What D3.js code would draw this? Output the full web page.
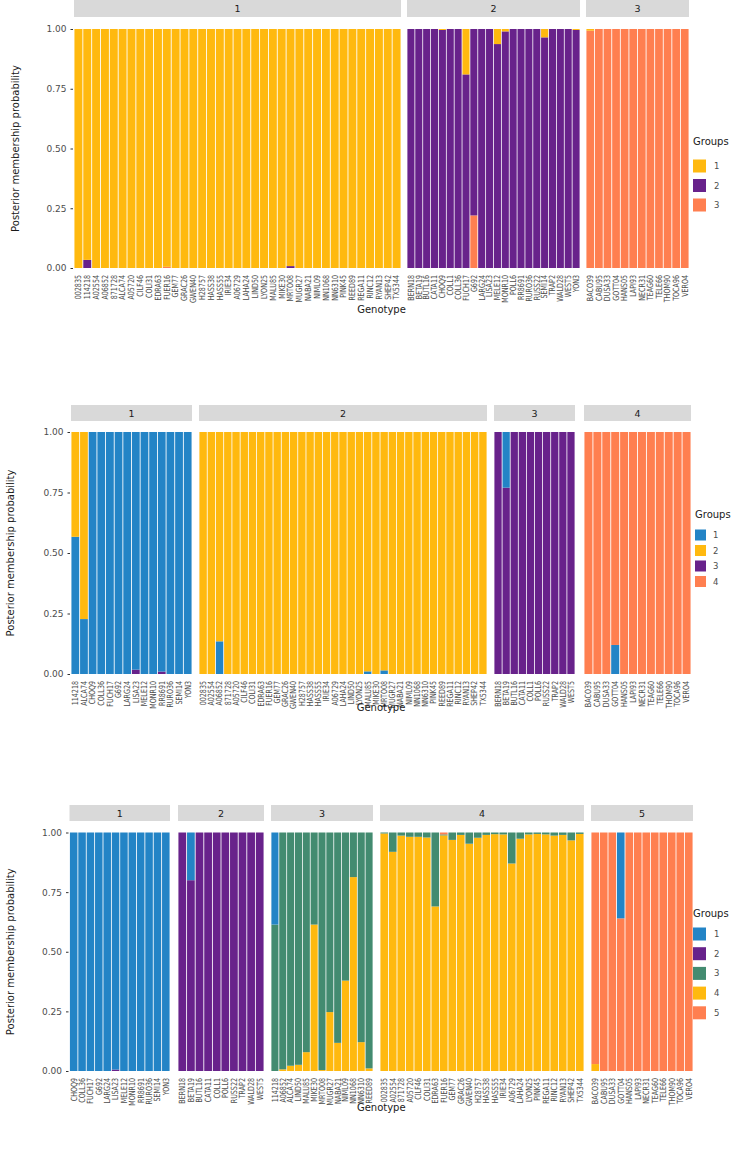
<!DOCTYPE html>
<html><head><meta charset="utf-8">
<script src="https://cdn.jsdelivr.net/npm/d3@7"></script>
<style>body{margin:0;background:#fff}svg{display:block}text{font-family:"DejaVu Sans",sans-serif}</style>
</head><body><svg id="c" width="748" height="1149"></svg>
<script>
// ---------------- DATA ----------------
const GROUP_COLORS_P1 = ["#FFB90F", "#68228B", "#FF7F50"];
const GROUP_COLORS_P2 = ["#2384C6", "#FFB90F", "#68228B", "#FF7F50"];
const GROUP_COLORS_P3 = ["#2384C6", "#68228B", "#438B70", "#FFB90F", "#FF7F50"];
const TICKS_Y = [0, 0.25, 0.5, 0.75, 1];

// Panel 1 (K = 3)
const P1_FACETS = ["1", "2", "3"];
const P1_F1 = ["002835","114218","A02554","A06852","871728","ALCA74","A05720","CILF46","COLI31","EDRA63","FUER16","GEM77","GRAC26","GWEN40","H28757","HASS38","HASS55","IRIE34","A06729","LAHA24","LIND50","LYON25","MALU85","MIKE30","MRTO08","MUGR27","NABA21","NIML09","NN1068","NN6310","PINK45","REED89","REGA11","RINC12","RYAN13","SHEP42","TX5344"];
const P1_F2 = ["BERN18","BETA19","BUTL16","CATA11","CHOQ9","COLL1","COLL36","FUCH17","G692","LARG24","LISA23","MELE12","MONR10","POLL6","RR8691","RURO36","RUSS22","SEMI14","TRAP2","WALD28","WEST5","YON3"];
const P1_F3 = ["BACO39","CABU95","DUSA33","GOTT04","HANS05","LAPI93","NECR31","TEAG60","TELE66","THOM90","TOCA96","VERO4"];
const P1_Q1 = [1,0.966,1,1,1,1,1,1,1,1, 0.995,1,1,1,1,1,1,1,1,1, 1,1,1,1,0.992,1,1,1,1,1, 1,1,1,1,1,1,1,
  0,0,0,0,0.004,0,0,0.19,0,0, 0,0.063,0.01,0,0,0,0,0.035,0,0, 0,0.004,
  0.007,0,0,0,0,0,0,0,0,0, 0,0];
const P1_Q2 = [0,0.034,0,0,0,0,0,0,0,0, 0,0,0,0,0,0,0,0,0,0, 0,0,0,0,0.008,0,0,0,0,0, 0,0,0,0,0,0,0,
  1,1,1,1,0.996,1,1,0.81,0.78,1, 1,0.937,0.99,1,1,1,1,0.965,1,1, 1,0.996,
  0,0,0,0,0,0,0,0,0,0, 0,0];
const P1_Q3 = [0,0,0,0,0,0,0,0,0,0, 0.005,0,0,0,0,0,0,0,0,0, 0,0,0,0,0,0,0,0,0,0, 0,0,0,0,0,0,0,
  0,0,0,0,0,0,0,0,0.22,0, 0,0,0,0,0,0,0,0,0,0, 0,0,
  0.993,1,1,1,1,1,1,1,1,1, 1,1];

// Panel 2 (K = 4)
const P2_FACETS = ["1", "2", "3", "4"];
const P2_F1 = ["114218","ALCA74","CHOQ9","COLL36","FUCH17","G692","LARG24","LISA23","MELE12","MONR10","RR8691","RURO36","SEMI14","YON3"];
const P2_F2 = ["002835","A02554","A06852","871728","A05720","CILF46","COLI31","EDRA63","FUER16","GEM77","GRAC26","GWEN40","H28757","HASS38","HASS55","IRIE34","A06729","LAHA24","LIND50","LYON25","MALU85","MIKE30","MRTO08","MUGR27","NABA21","NIML09","NN1068","NN6310","PINK45","REED89","REGA11","RINC12","RYAN13","SHEP42","TX5344"];
const P2_F3 = ["BERN18","BETA19","BUTL16","CATA11","COLL1","POLL6","RUSS22","TRAP2","WALD28","WEST5"];
const P2_F4 = ["BACO39","CABU95","DUSA33","GOTT04","HANS05","LAPI93","NECR31","TEAG60","TELE66","THOM90","TOCA96","VERO4"];
const P2_Q1 = [0.567,0.227,1,1,1,1,1,0.982,1,1, 0.99,1,1,1,
  0,0,0.135,0,0,0,0,0,0,0, 0,0,0,0,0,0,0,0,0,0, 0.011,0,0.015,0,0,0,0,0,0,0, 0,0,0,0,0,
  0,0.23,0,0,0,0,0,0,0,0,
  0,0,0,0.12,0,0,0,0,0,0, 0,0];
const P2_Q2 = [0.433,0.773,0,0,0,0,0,0,0,0, 0,0,0,0,
  1,1,0.865,1,1,1,1,1,1,1, 1,1,1,1,1,1,1,1,1,1, 0.989,1,0.985,1,1,1,1,1,1,1, 1,1,1,1,1,
  0,0,0,0,0,0,0,0,0,0,
  0,0,0,0,0,0,0,0,0,0, 0,0];
const P2_Q3 = [0,0,0,0,0,0,0,0.018,0,0, 0.01,0,0,0,
  0,0,0,0,0,0,0,0,0,0, 0,0,0,0,0,0,0,0,0,0, 0,0,0,0,0,0,0,0,0,0, 0,0,0,0,0,
  1,0.77,1,1,1,1,1,1,1,1,
  0,0,0,0,0,0,0,0,0,0, 0,0];
const P2_Q4 = [0,0,0,0,0,0,0,0,0,0, 0,0,0,0,
  0,0,0,0,0,0,0,0,0,0, 0,0,0,0,0,0,0,0,0,0, 0,0,0,0,0,0,0,0,0,0, 0,0,0,0,0,
  0,0,0,0,0,0,0,0,0,0,
  1,1,1,0.88,1,1,1,1,1,1, 1,1];

// Panel 3 (K = 5)
const P3_FACETS = ["1", "2", "3", "4", "5"];
const P3_F1 = ["CHOQ9","COLL36","FUCH17","G692","LARG24","LISA23","MELE12","MONR10","RR8691","RURO36","SEMI14","YON3"];
const P3_F2 = ["BERN18","BETA19","BUTL16","CATA11","COLL1","POLL6","RUSS22","TRAP2","WALD28","WEST5"];
const P3_F3 = ["114218","A06852","ALCA74","LIND50","MALU85","MIKE30","MRTO08","MUGR27","NABA21","NIML09","NN1068","NN6310","REED89"];
const P3_F4 = ["002835","A02554","871728","A05720","CILF46","COLI31","EDRA63","FUER16","GEM77","GRAC26","GWEN40","H28757","HASS38","HASS55","IRIE34","A06729","LAHA24","LYON25","PINK45","REGA11","RINC12","RYAN13","SHEP42","TX5344"];
const P3_F5 = ["BACO39","CABU95","DUSA33","GOTT04","HANS05","LAPI93","NECR31","TEAG60","TELE66","THOM90","TOCA96","VERO4"];
const P3_Q1 = [1,1,1,1,1,0.994,1,1,1,1, 1,1,
  0,0.2,0,0,0,0,0,0,0,0,
  0.386,0,0,0,0,0,0,0,0,0, 0,0,0,
  0,0,0,0,0,0,0,0,0,0, 0,0,0,0,0,0,0,0,0,0, 0,0,0,0,
  0,0,0,0.36,0,0,0,0,0,0, 0,0];
const P3_Q2 = [0,0,0,0,0,0.006,0,0,0,0, 0,0,
  1,0.8,1,1,1,1,1,1,1,1,
  0,0,0,0,0,0,0,0,0,0, 0,0,0,
  0,0,0,0,0,0,0,0,0,0, 0,0,0,0,0,0,0,0,0,0, 0,0,0,0,
  0,0,0,0,0,0,0,0,0,0, 0,0];
const P3_Q3 = [0,0,0,0,0,0,0,0,0,0, 0,0,
  0,0,0,0,0,0,0,0,0,0,
  0.614,0.993,0.978,0.974,0.921,0.386,0.996,0.753,0.882,0.621, 0.187,0.879,0.989,
  0.004,0.081,0.013,0.018,0.018,0.021,0.31,0.004,0.031,0.01, 0.047,0.022,0.01,0.007,0.008,0.13,0.026,0.008,0.006,0.008, 0.013,0.01,0.033,0.006,
  0,0,0,0,0,0,0,0,0,0, 0,0];
const P3_Q4 = [0,0,0,0,0,0,0,0,0,0, 0,0,
  0,0,0,0,0,0,0,0,0,0,
  0,0.007,0.022,0.026,0.079,0.614,0.004,0.247,0.118,0.379, 0.813,0.121,0.011,
  0.996,0.919,0.987,0.982,0.982,0.979,0.69,0.988,0.969,0.99, 0.953,0.978,0.99,0.993,0.992,0.87,0.974,0.992,0.994,0.992, 0.987,0.99,0.967,0.994,
  0.029,0,0,0,0,0,0,0,0,0, 0,0];
const P3_Q5 = [0,0,0,0,0,0,0,0,0,0, 0,0,
  0,0,0,0,0,0,0,0,0,0,
  0,0,0,0,0,0,0,0,0,0, 0,0,0,
  0,0,0,0,0,0,0,0.008,0,0, 0,0,0,0,0,0,0,0,0,0, 0,0,0,0,
  0.971,1,1,0.64,1,1,1,1,1,1, 1,1];

// ---------------- LAYOUT ----------------
const panels = [
  { facets: P1_FACETS, genos: [P1_F1, P1_F2, P1_F3], q: [P1_Q1, P1_Q2, P1_Q3],
    colors: GROUP_COLORS_P1, stackOrder: [3, 2, 1],
    fx: [[74, 401], [407, 580], [586, 689]], yTop: 29, yBot: 268, strip: [0, 17],
    yTitleX: 15, xTitleY: 309,
    legend: { x: 693, titleY: 141, keyY0: 166, pitch: 19.5, size: 13, labelX: 714 } },
  { facets: P2_FACETS, genos: [P2_F1, P2_F2, P2_F3, P2_F4], q: [P2_Q1, P2_Q2, P2_Q3, P2_Q4],
    colors: GROUP_COLORS_P2, stackOrder: [3, 1, 4, 2],
    fx: [[71, 192], [199, 487], [494, 575], [584, 691]], yTop: 432, yBot: 674, strip: [405, 421],
    yTitleX: 10, xTitleY: 707,
    legend: { x: 695, titleY: 514, keyY0: 535, pitch: 15.5, size: 11, labelX: 713 } },
  { facets: P3_FACETS, genos: [P3_F1, P3_F2, P3_F3, P3_F4, P3_F5], q: [P3_Q1, P3_Q2, P3_Q3, P3_Q4, P3_Q5],
    colors: GROUP_COLORS_P3, stackOrder: [4, 3, 5, 2, 1],
    fx: [[69.5, 170], [178, 264], [271, 373], [380, 584], [591, 693]], yTop: 832.5, yBot: 1071, strip: [805, 821],
    yTitleX: 10, xTitleY: 1107,
    legend: { x: 693, titleY: 913, keyY0: 934, pitch: 19.7, size: 13, labelX: 714 } }
];

const svg = d3.select("#c");
const TXT = "#4d4d4d";

panels.forEach(p => {
  const g = svg.append("g");
  const K = p.q.length;
  const keys = d3.range(1, K + 1).map(k => "g" + k);
  const rows = [];
  let idx = 0;
  p.genos.forEach((list, fi) => {
    list.forEach(name => {
      const r = { facet: fi, name: name };
      keys.forEach((k, ki) => { r[k] = p.q[ki][idx]; });
      rows.push(r);
      idx++;
    });
  });
  const y = d3.scaleLinear().domain([0, 1]).range([p.yBot, p.yTop]);
  const stacked = d3.stack().keys(p.stackOrder.map(k => "g" + k))(rows);

  p.genos.forEach((list, fi) => {
    const [x0, x1] = p.fx[fi];
    const x = d3.scaleBand().domain(list).range([x0, x1]).paddingInner(0.1).paddingOuter(0.05);
    g.append("rect").attr("x", x0).attr("y", p.strip[0]).attr("width", x1 - x0)
      .attr("height", p.strip[1] - p.strip[0]).attr("fill", "#d9d9d9");
    g.append("text").attr("x", (x0 + x1) / 2).attr("y", (p.strip[0] + p.strip[1]) / 2)
      .attr("text-anchor", "middle").attr("dominant-baseline", "central")
      .attr("font-size", 9.5).attr("fill", "#1a1a1a").text(p.facets[fi]);
    stacked.forEach(series => {
      const gi = +series.key.slice(1) - 1;
      const seg = series.filter(d => d.data.facet === fi && d[1] - d[0] > 0);
      g.append("g").selectAll("rect").data(seg).join("rect")
        .attr("x", d => x(d.data.name)).attr("width", x.bandwidth())
        .attr("y", d => y(d[1])).attr("height", d => y(d[0]) - y(d[1]))
        .attr("fill", p.colors[gi]);
    });
    g.append("g").selectAll("text").data(list).join("text")
      .attr("transform", d => `translate(${x(d) + x.bandwidth() / 2},${p.yBot + 7}) rotate(-90) scale(0.75,1)`)
      .attr("text-anchor", "end").attr("dominant-baseline", "central")
      .attr("font-size", 8.5).attr("fill", TXT).text(d => d);
  });

  const ax = g.append("g").attr("transform", `translate(${p.fx[0][0] - 1},0)`)
    .call(d3.axisLeft(y).tickValues(TICKS_Y).tickFormat(d3.format(".2f")).tickSize(2.5).tickPadding(4));
  ax.select(".domain").remove();
  ax.selectAll(".tick line").attr("stroke", "#333");
  ax.selectAll(".tick text").attr("font-size", 9).attr("fill", TXT).attr("font-family", "DejaVu Sans");

  const plotMid = (p.fx[0][0] + p.fx[p.fx.length - 1][1]) / 2;
  g.append("text").attr("x", plotMid).attr("y", p.xTitleY).attr("text-anchor", "middle")
    .attr("dominant-baseline", "central").attr("font-size", 10).attr("fill", "#1a1a1a").text("Genotype");
  g.append("text").attr("transform", `translate(${p.yTitleX},${(p.yTop + p.yBot) / 2}) rotate(-90)`)
    .attr("text-anchor", "middle").attr("dominant-baseline", "central")
    .attr("font-size", 10).attr("fill", "#1a1a1a").text("Posterior membership probability");

  const L = p.legend;
  g.append("text").attr("x", L.x).attr("y", L.titleY).attr("dominant-baseline", "central")
    .attr("font-size", 10).attr("fill", "#1a1a1a").text("Groups");
  keys.forEach((k, i) => {
    const cy = L.keyY0 + i * L.pitch;
    g.append("rect").attr("x", L.x).attr("y", cy - L.size / 2).attr("width", L.size).attr("height", L.size)
      .attr("fill", p.colors[i]);
    g.append("text").attr("x", L.labelX).attr("y", cy).attr("dominant-baseline", "central")
      .attr("font-size", 8.5).attr("fill", TXT).text(String(i + 1));
  });
});
</script></body></html>
